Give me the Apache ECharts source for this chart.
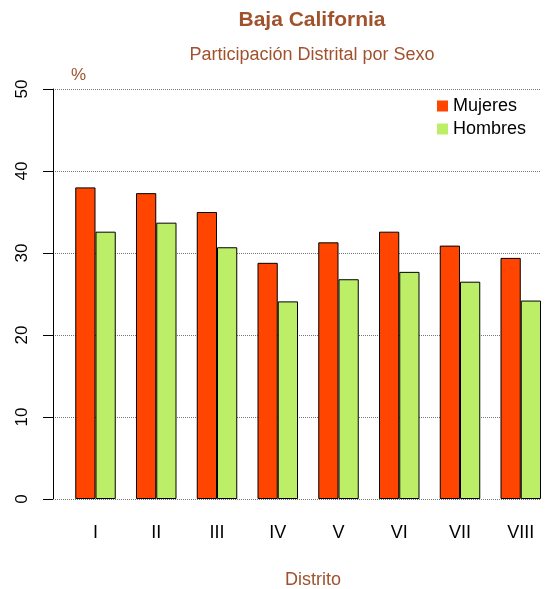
<!DOCTYPE html>
<html lang="es">
<head>
    <meta charset="UTF-8">
    <title>Baja California</title>
    <script src="https://cdn.jsdelivr.net/npm/echarts@6.0.0/dist/echarts.min.js"></script>
</head>
<body style="margin:0;">
    <div id="chart" style="width: 546px; height: 589px;"></div>
    <script type="text/javascript">
        // Data
        const distritos = ['I', 'II', 'III', 'IV', 'V', 'VI', 'VII', 'VIII'];
        const mujeres = [38.0, 37.3, 35.0, 28.8, 31.3, 32.6, 30.9, 29.4];
        const hombres = [32.6, 33.7, 30.7, 24.1, 26.8, 27.7, 26.5, 24.2];
        const yTicks = [0, 10, 20, 30, 40, 50];

        const sienna = '#A0522D';
        const font = 'Liberation Sans, Arial, sans-serif';

        const chart = echarts.init(document.getElementById('chart'));

        chart.setOption({
            animation: false,
            textStyle: { fontFamily: font },
            title: [
                { text: 'Baja California', left: 307, top: 5, textAlign: 'center',
                  textStyle: { color: sienna, fontSize: 21, fontWeight: 'bold', fontFamily: font } },
                { text: 'Participación Distrital por Sexo', left: 307, top: 41, textAlign: 'center',
                  textStyle: { color: sienna, fontSize: 18, fontWeight: 'normal', fontFamily: font } },
                { text: '%', left: 66, top: 62,
                  textStyle: { color: sienna, fontSize: 17, fontWeight: 'normal', fontFamily: font } },
                { text: 'Distrito', left: 308, top: 566, textAlign: 'center',
                  textStyle: { color: sienna, fontSize: 18, fontWeight: 'normal', fontFamily: font } }
            ],
            legend: {
                data: ['Mujeres', 'Hombres'],
                orient: 'vertical',
                left: 432,
                top: 92,
                icon: 'rect',
                itemWidth: 11,
                itemHeight: 11,
                itemGap: 5,
                itemStyle: { borderWidth: 0 },
                textStyle: { fontSize: 18, color: '#000', fontFamily: font }
            },
            grid: { left: 55, right: 5, top: 89, bottom: 90 },
            xAxis: {
                type: 'category',
                data: distritos,
                axisLine: { show: false },
                axisTick: { show: false },
                axisLabel: { margin: 25, fontSize: 18, color: '#000', padding: [0, 0, 0, 20.3] }
            },
            yAxis: {
                type: 'value',
                min: yTicks[0],
                max: yTicks[yTicks.length - 1],
                interval: 10,
                offset: 2,
                axisLine: { show: true, lineStyle: { color: '#000', width: 1 } },
                axisTick: { show: true, length: 10, lineStyle: { color: '#000' } },
                axisLabel: { rotate: 90, fontSize: 17, color: '#000', margin: 22 },
                splitLine: { show: true, lineStyle: { type: 'dotted', color: '#777', width: 1 } }
            },
            series: [
                { name: 'spacer', type: 'bar', data: distritos.map(() => null),
                  barGap: '0%', barCategoryGap: '0%', silent: true },
                { name: 'Mujeres', type: 'bar', data: mujeres, barGap: '0%', barCategoryGap: '0%',
                  itemStyle: { color: '#FF4500', borderColor: '#000', borderWidth: 1 } },
                { name: 'Hombres', type: 'bar', data: hombres, barGap: '0%', barCategoryGap: '0%',
                  itemStyle: { color: '#BCEE68', borderColor: '#000', borderWidth: 1 } }
            ]
        });
    </script>
</body>
</html>
